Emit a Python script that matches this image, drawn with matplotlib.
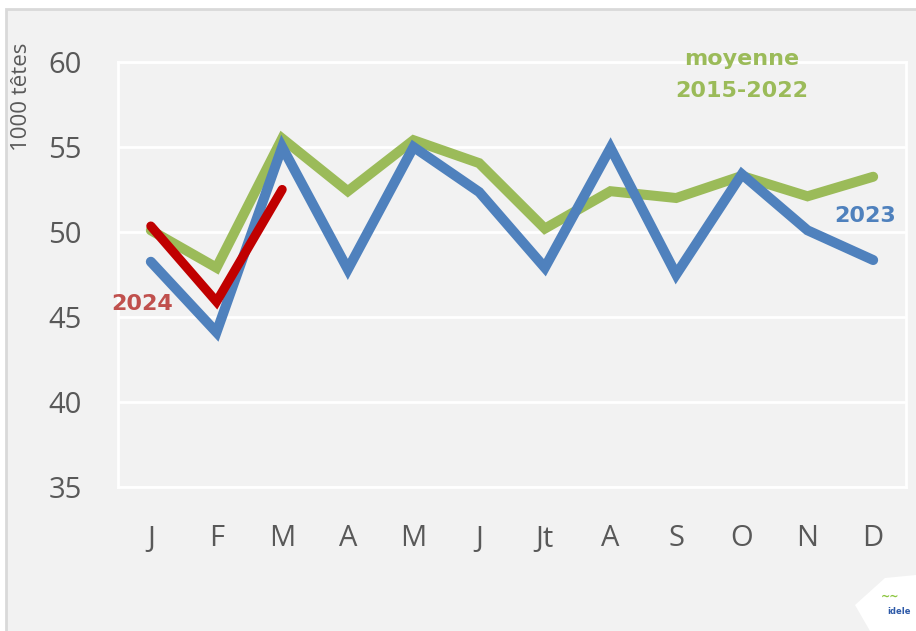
import matplotlib
matplotlib.use("Agg")
import matplotlib.pyplot as plt
from matplotlib.patches import Rectangle, Polygon

months = ["J", "F", "M", "A", "M", "J", "Jt", "A", "S", "O", "N", "D"]
moy_2015_2022 = [50.1, 47.9, 55.5, 52.4, 55.4, 54.05, 50.2, 52.4, 52.0, 53.3, 52.1, 53.25]
y2023 = [48.25, 44.1, 55.0, 47.8, 55.0, 52.35, 47.9, 54.95, 47.5, 53.4, 50.1, 48.35]
y2024 = [50.35, 45.9, 52.5]
yticks = [35, 40, 45, 50, 55, 60]

GREEN = "#9bbb59"
BLUE = "#4f81bd"
RED = "#c00000"
RED_LABEL = "#c0504d"
GRAY_TXT = "#595959"
BG = "#f2f2f2"

W, H = 916, 631
fig = plt.figure(figsize=(W / 100, H / 100), dpi=100)
fig.patch.set_facecolor("white")
bg = Rectangle((6 / W, -0.01), 1.0, 1 - 9 / H + 0.01, transform=fig.transFigure,
               facecolor=BG, edgecolor="#d9d9d9", linewidth=2, zorder=-10)
fig.add_artist(bg)

ax = fig.add_axes([118 / W, 1 - 487 / H, (906 - 118) / W, (487 - 62) / H])
ax.set_zorder(1)
ax.set_facecolor(BG)
x = list(range(len(months)))
ax.plot(x, moy_2015_2022, color=GREEN, lw=7.2, solid_capstyle="round", solid_joinstyle="miter", zorder=3)
ax.plot(x, y2023, color=BLUE, lw=7.2, solid_capstyle="round", solid_joinstyle="miter", zorder=4)
ax.plot(x[:len(y2024)], y2024, color=RED, lw=6.6, solid_capstyle="round", solid_joinstyle="miter", zorder=5)

ax.set_xlim(-0.5, 11.5)
ax.set_ylim(35, 60)
ax.set_yticks(yticks)
ax.set_xticks(x)
ax.set_xticklabels(months)
ax.grid(axis="y", color="white", lw=2)
ax.set_axisbelow(True)
for s in ax.spines.values():
    s.set_color("white")
    s.set_linewidth(2)
ax.tick_params(axis="both", length=0, colors=GRAY_TXT, labelsize=21)
ax.tick_params(axis="y", pad=26)
ax.tick_params(axis="x", pad=27)
for lab in ax.get_xticklabels() + ax.get_yticklabels():
    lab.set_fontfamily("Open Sans")

fig.text(22 / W, 1 - 97 / H, "1000 têtes", rotation=90, ha="center", va="center",
         fontsize=16, color=GRAY_TXT, family="Open Sans")

ax.text(-0.135, 45.41, "2024", color=RED_LABEL, fontsize=16, fontweight="bold",
        ha="center", va="baseline", family="DejaVu Sans")
ax.text(11.35, 50.6, "2023", color=BLUE, fontsize=16, fontweight="bold",
        ha="right", va="baseline", family="DejaVu Sans")
ax.text(9.0, 59.82, "moyenne", color=GREEN, fontsize=16, fontweight="bold",
        ha="center", va="baseline", family="DejaVu Sans", clip_on=False)
ax.text(9.0, 57.96, "2015-2022", color=GREEN, fontsize=16, fontweight="bold",
        ha="center", va="baseline", family="DejaVu Sans")

# small logo area
logo = Polygon([(855 / W, 1 - 605 / H), (885 / W, 1 - 578 / H), (916 / W, 1 - 575 / H),
                (916 / W, 1 - 631 / H), (870 / W, 1 - 631 / H)], closed=True,
               transform=fig.transFigure, facecolor="white", edgecolor="none", zorder=5)
fig.add_artist(logo)
fig.text(899 / W, 1 - 612 / H, "idele", color="#2e5aa8", fontsize=6, fontweight="bold",
         ha="center", va="center", zorder=6)
fig.text(890 / W, 1 - 597 / H, "~~", color="#8cc63f", fontsize=8, fontweight="bold",
         ha="center", va="center", zorder=6)

fig.savefig("out.png", dpi=100, facecolor=fig.get_facecolor())
